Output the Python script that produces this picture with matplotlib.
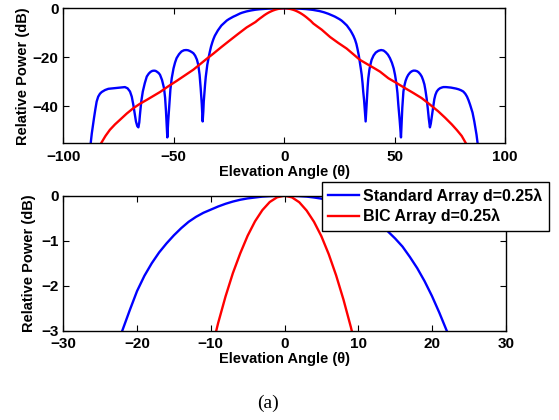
import matplotlib
matplotlib.use('Agg')
import matplotlib.pyplot as plt

plt.rcParams['font.family'] = ['Liberation Sans', 'DejaVu Sans']
plt.rcParams['font.weight'] = 'bold'

# standard array pattern (dB) vs elevation angle (deg)
std_theta = [-88.5, -87.6, -87.1, -86.6, -86.1, -85.5, -84.9, -84.2, -83.4, -82.6,
             -81.1, -79.6, -77.5, -75.1, -73.5, -72.1, -70.9, -69.8, -69.0, -68.3,
             -67.7, -67.1, -66.5, -66.0, -65.6, -65.3, -64.7, -64.0, -63.1, -62.2,
             -61.3, -60.5, -59.7, -58.9, -58.2, -57.5, -56.8, -56.2, -55.3, -54.4,
             -53.9, -53.5, -53.2, -52.9, -52.5, -52.0, -51.5, -50.9, -50.1, -49.4,
             -48.7, -47.6, -46.5, -45.4, -44.4, -43.5, -42.7, -41.9, -41.1, -40.3,
             -39.5, -38.9, -38.3, -37.8, -37.3, -36.9, -36.6, -36.4, -36.1, -35.8,
             -35.5, -35.1, -34.8, -34.4, -34.0, -33.6, -33.1, -32.5, -32.0, -31.4,
             -30.7, -30.0, -29.2, -28.4, -27.0, -26.0, -25.0, -24.0, -23.0, -22.0,
             -21.0, -20.0, -19.0, -18.0, -17.0, -16.0, -15.0, -14.0, -13.0, -12.0,
             -11.0, -10.0, -9.0, -8.0, -7.0, -6.0, -5.0, -4.0, -3.0, -2.0,
             -1.0, 0.0,
             1.0, 2.0, 3.0, 4.0, 5.0, 6.0, 7.0, 8.0, 9.0, 10.0,
             11.0, 12.0, 13.0, 14.0, 15.0, 16.0, 17.0, 18.0, 19.0, 20.0,
             21.0, 22.0, 23.0, 24.0, 25.0, 26.0, 27.0, 28.4, 29.2, 30.0,
             30.7, 31.4, 32.1, 32.7, 33.2, 33.8, 34.3, 34.7, 35.1, 35.5,
             35.8, 36.2, 36.5, 36.9, 37.2, 37.5, 37.8, 38.1, 38.6, 39.1,
             39.6, 40.5, 41.5, 42.7, 43.9, 45.0, 46.0, 47.0, 47.9, 48.8,
             49.6, 50.2, 50.8, 51.3, 51.7, 52.3, 52.9, 53.2, 53.5, 54.0,
             54.5, 55.0, 55.6, 56.2, 57.0, 57.7, 58.5, 59.3, 60.1, 60.8,
             61.6, 62.3, 62.9, 63.5, 64.0, 64.5, 65.0, 65.5, 66.0, 66.4,
             66.8, 67.5, 68.0, 68.5, 69.1, 69.8, 70.5, 71.3, 72.1, 73.3,
             74.5, 75.5, 76.6, 77.8, 79.0, 80.1, 81.1, 82.0, 82.8, 83.5,
             84.2, 84.8, 85.3, 85.7, 86.1, 86.6, 87.1, 87.6, 88.5]
std_db = [-65.0, -55.0, -51.0, -47.8, -44.7, -41.2, -38.0, -36.0, -34.8, -34.1,
          -33.3, -32.8, -32.6, -32.4, -32.2, -32.1, -32.6, -33.9, -36.0, -39.3,
          -42.8, -46.1, -48.0, -48.5, -46.5, -43.4, -38.0, -33.9, -30.5, -27.8,
          -26.6, -25.9, -25.5, -25.4, -25.5, -25.9, -26.4, -27.1, -29.2, -32.5,
          -36.5, -42.0, -47.0, -52.6, -46.0, -39.3, -33.0, -28.5, -24.5, -22.1,
          -20.3, -18.7, -17.6, -17.1, -17.0, -17.1, -17.4, -17.8, -18.3, -19.3,
          -20.9, -23.0, -27.0, -32.5, -39.0, -46.1, -42.0, -38.0, -34.2, -31.0,
          -28.0, -25.1, -23.0, -21.0, -19.2, -17.5, -15.6, -13.8, -12.5, -11.2,
          -10.1, -9.0, -8.0, -7.0, -5.8, -5.0, -4.4, -3.9, -3.4, -3.0,
          -2.55, -2.12, -1.78, -1.5, -1.26, -1.06, -0.88, -0.72, -0.58, -0.47,
          -0.38, -0.31, -0.24, -0.18, -0.13, -0.09, -0.06, -0.04, -0.02, -0.01,
          -0.003, 0.0,
          -0.003, -0.01, -0.02, -0.04, -0.065, -0.1, -0.14, -0.19, -0.25, -0.33,
          -0.42, -0.52, -0.64, -0.79, -0.95, -1.13, -1.36, -1.61, -1.9, -2.23,
          -2.6, -3.0, -3.4, -3.9, -4.4, -5.0, -5.8, -7.0, -8.0, -9.0,
          -10.1, -11.3, -12.8, -14.5, -16.5, -19.2, -22.0, -24.5, -27.0, -30.5,
          -33.9, -37.5, -41.0, -46.1, -41.5, -36.5, -32.0, -28.5, -25.0, -22.8,
          -21.0, -19.2, -18.0, -17.3, -17.0, -17.2, -17.9, -18.9, -20.3, -22.2,
          -24.5, -27.1, -30.5, -34.5, -39.3, -45.5, -52.6, -47.0, -40.5, -33.9,
          -31.3, -29.5, -28.1, -27.1, -26.2, -25.7, -25.4, -25.4, -25.6, -26.0,
          -26.8, -27.8, -29.2, -31.0, -33.5, -36.6, -40.5, -45.0, -48.5, -47.0,
          -44.5, -40.0, -37.0, -35.2, -33.9, -33.1, -32.6, -32.3, -32.1, -32.1,
          -32.2, -32.3, -32.5, -32.7, -33.0, -33.4, -33.9, -34.8, -36.0, -37.5,
          -39.3, -41.0, -42.5, -44.2, -46.1, -48.8, -51.5, -55.0, -65.0]

# BIC array pattern (dB)
bic_theta = [-84.5, -82.9, -80.9, -78.9, -76.6, -74.3, -71.3, -68.3, -65.3, -62.2,
             -59.2, -56.2, -52.5, -48.7, -44.9, -41.1, -38.1, -35.1, -32.1, -28.3,
             -24.5, -20.8, -17.0, -15.0, -13.0, -12.0, -11.0, -10.0, -9.0, -8.0,
             -7.0, -6.0, -5.0, -4.0, -3.0, -2.0, -1.0, 0.0,
             1.0, 2.0, 3.0, 4.0, 5.0, 6.0, 7.0, 8.0, 9.0, 10.0,
             11.0, 12.0, 13.2, 15.0, 17.0, 20.8, 24.5, 28.3, 31.3, 34.3,
             38.1, 40.8, 43.4, 47.2, 51.0, 54.7, 58.5, 62.3, 66.0, 69.8,
             72.9, 75.9, 78.2, 80.4, 82.3, 84.5]
bic_db = [-61.0, -55.0, -52.0, -49.5, -47.3, -45.4, -42.9, -40.7, -38.9, -37.3,
          -35.7, -34.1, -31.8, -29.6, -27.3, -25.0, -22.8, -20.6, -18.5, -15.7,
          -13.0, -10.4, -7.8, -6.7, -5.6, -4.85, -4.15, -3.5, -2.83, -2.24,
          -1.72, -1.28, -0.89, -0.57, -0.32, -0.14, -0.035, 0.0,
          -0.036, -0.145, -0.33, -0.58, -0.9, -1.3, -1.77, -2.31, -2.92, -3.6,
          -4.35, -5.1, -6.2, -7.4, -8.7, -11.7, -14.1, -16.4, -18.7, -21.0,
          -23.0, -24.4, -25.8, -28.5, -30.5, -32.5, -34.5, -36.6, -39.2, -42.0,
          -44.6, -47.3, -49.6, -52.0, -55.0, -61.0]

labels = ['Standard Array d=0.25\u03bb', 'BIC Array d=0.25\u03bb']

fig = plt.figure(figsize=(5.59, 4.2), dpi=100)
ax1 = fig.add_axes([63.3 / 559, 1 - 143.3 / 420, 441.7 / 559, 135 / 420])
ax2 = fig.add_axes([63.3 / 559, 1 - 330.7 / 420, 442.4 / 559, 135 / 420])

for ax in (ax1, ax2):
    ax.plot(std_theta, std_db, color='#0000ff', lw=1.7, label=labels[0])
    ax.plot(bic_theta, bic_db, color='#ff0000', lw=1.7, label=labels[1])
    ax.tick_params(direction='in', top=True, right=True, length=4, width=0.8,
                   labelsize=11)
    ax.tick_params(axis='x', pad=4.5)
    ax.tick_params(axis='y', pad=3.5)
    for s in ax.spines.values():
        s.set_linewidth(1.0)
    ax.set_xlabel('Elevation Angle (\u03b8)', fontsize=10.5, fontweight='bold', labelpad=1)

ax1.set_ylabel('Relative Power (dB)', fontsize=10.5, fontweight='bold', labelpad=2)
ax2.set_ylabel('Relative Power (dB)', fontsize=10.5, fontweight='bold', labelpad=4)

ax1.set_xlim(-100, 100)
ax1.set_ylim(-55, 0)
ax1.set_xticks([-100, -50, 0, 50, 100])
ax1.set_yticks([-40, -20, 0])

ax2.set_xlim(-30, 30)
ax2.set_ylim(-3, 0)
ax2.set_xticks([-30, -20, -10, 0, 10, 20, 30])
ax2.set_yticks([-3, -2, -1, 0])

leg = ax2.legend(loc='upper right', bbox_to_anchor=(549 / 559, 1 - 182 / 420),
                 bbox_transform=fig.transFigure, fontsize=11.5, frameon=True,
                 fancybox=False, handlelength=1.9, handletextpad=0.3,
                 labelspacing=0.3, borderpad=0.4, borderaxespad=0)
leg.get_frame().set_edgecolor('black')
leg.get_frame().set_linewidth(1.0)
leg.get_frame().set_alpha(1)

fig.text(268 / 559, 1 - 403 / 420, '(a)', family='Liberation Serif',
         fontweight='normal', fontsize=14, ha='center', va='center')

fig.savefig('out.png', dpi=100)
